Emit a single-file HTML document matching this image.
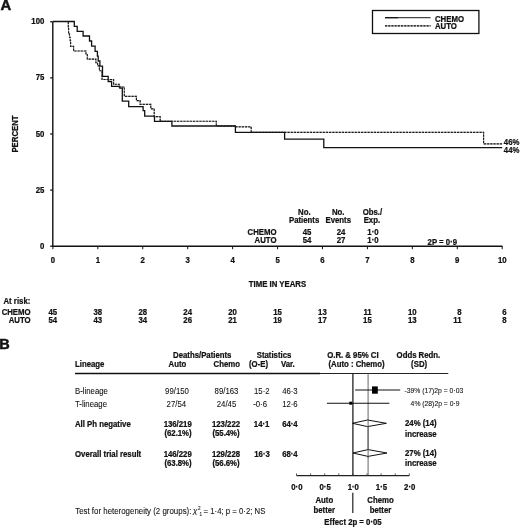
<!DOCTYPE html>
<html><head><meta charset="utf-8"><style>
html,body{margin:0;padding:0;background:#fff;width:520px;height:528px;overflow:hidden}
svg{display:block;will-change:transform}
text{font-family:"Liberation Sans",sans-serif;fill:#111;stroke:#111;stroke-width:0.08px}
text[font-weight=bold]{stroke-width:0.22px}
</style></head><body>
<svg width="520" height="528" viewBox="0 0 520 528">
<text x="0.6" y="10.3" font-weight="bold" font-size="14.8" style="stroke-width:0.5px">A</text>
<path d="M52.8 21.76 V246.20 H502.3" fill="none" stroke="#111" stroke-width="1.4"/>
<path d="M50.2 21.76 H52.7" stroke="#111" stroke-width="1.3"/>
<text transform="translate(44.30 20.76) scale(1 1.06)" y="2.68" text-anchor="end" font-weight="bold" font-size="7.8" >100</text>
<path d="M50.2 77.87 H52.7" stroke="#111" stroke-width="1.3"/>
<text transform="translate(44.30 77.57) scale(1 1.06)" y="2.68" text-anchor="end" font-weight="bold" font-size="7.8" >75</text>
<path d="M50.2 133.98 H52.7" stroke="#111" stroke-width="1.3"/>
<text transform="translate(44.30 133.68) scale(1 1.06)" y="2.68" text-anchor="end" font-weight="bold" font-size="7.8" >50</text>
<path d="M50.2 190.09 H52.7" stroke="#111" stroke-width="1.3"/>
<text transform="translate(44.30 189.79) scale(1 1.06)" y="2.68" text-anchor="end" font-weight="bold" font-size="7.8" >25</text>
<path d="M50.2 246.20 H52.7" stroke="#111" stroke-width="1.3"/>
<text transform="translate(44.30 245.90) scale(1 1.06)" y="2.68" text-anchor="end" font-weight="bold" font-size="7.8" >0</text>
<path d="M52.90 246 V249.2" stroke="#111" stroke-width="1"/>
<text transform="translate(52.90 259.80) scale(1 1.06)" y="2.68" text-anchor="middle" font-weight="bold" font-size="7.8" >0</text>
<path d="M97.83 246 V249.2" stroke="#111" stroke-width="1"/>
<text transform="translate(97.83 259.80) scale(1 1.06)" y="2.68" text-anchor="middle" font-weight="bold" font-size="7.8" >1</text>
<path d="M142.76 246 V249.2" stroke="#111" stroke-width="1"/>
<text transform="translate(142.76 259.80) scale(1 1.06)" y="2.68" text-anchor="middle" font-weight="bold" font-size="7.8" >2</text>
<path d="M187.69 246 V249.2" stroke="#111" stroke-width="1"/>
<text transform="translate(187.69 259.80) scale(1 1.06)" y="2.68" text-anchor="middle" font-weight="bold" font-size="7.8" >3</text>
<path d="M232.62 246 V249.2" stroke="#111" stroke-width="1"/>
<text transform="translate(232.62 259.80) scale(1 1.06)" y="2.68" text-anchor="middle" font-weight="bold" font-size="7.8" >4</text>
<path d="M277.55 246 V249.2" stroke="#111" stroke-width="1"/>
<text transform="translate(277.55 259.80) scale(1 1.06)" y="2.68" text-anchor="middle" font-weight="bold" font-size="7.8" >5</text>
<path d="M322.48 246 V249.2" stroke="#111" stroke-width="1"/>
<text transform="translate(322.48 259.80) scale(1 1.06)" y="2.68" text-anchor="middle" font-weight="bold" font-size="7.8" >6</text>
<path d="M367.41 246 V249.2" stroke="#111" stroke-width="1"/>
<text transform="translate(367.41 259.80) scale(1 1.06)" y="2.68" text-anchor="middle" font-weight="bold" font-size="7.8" >7</text>
<path d="M412.34 246 V249.2" stroke="#111" stroke-width="1"/>
<text transform="translate(412.34 259.80) scale(1 1.06)" y="2.68" text-anchor="middle" font-weight="bold" font-size="7.8" >8</text>
<path d="M457.27 246 V249.2" stroke="#111" stroke-width="1"/>
<text transform="translate(457.27 259.80) scale(1 1.06)" y="2.68" text-anchor="middle" font-weight="bold" font-size="7.8" >9</text>
<path d="M502.20 246 V249.2" stroke="#111" stroke-width="1"/>
<text transform="translate(502.20 259.80) scale(1 1.06)" y="2.68" text-anchor="middle" font-weight="bold" font-size="7.8" >10</text>
<text transform="translate(277.50 283.80) scale(1 1.06)" y="2.68" text-anchor="middle" font-weight="bold" font-size="7.8" >TIME IN YEARS</text>
<text transform="translate(15.4 134) rotate(-90) scale(1 1.06)" y="2.68" text-anchor="middle" font-weight="bold" font-size="7.8">PERCENT</text>
<rect x="372.5" y="10.5" width="106.4" height="23" fill="none" stroke="#111" stroke-width="1.3"/>
<path d="M385 17.7 H430.6" stroke="#444" stroke-width="1.2"/>
<path d="M385 17.7 H398" stroke="#111" stroke-width="1.2"/>
<path d="M385 25.9 H430.6" stroke="#aaa" stroke-width="1.1"/>
<path d="M385 25.9 H430.6" stroke="#111" stroke-width="1.2" stroke-dasharray="2.1 1.1"/>
<text transform="translate(435.00 19.00) scale(1 1.06)" y="2.68" text-anchor="start" font-weight="bold" font-size="7.8" >CHEMO</text>
<text transform="translate(435.00 26.40) scale(1 1.06)" y="2.68" text-anchor="start" font-weight="bold" font-size="7.8" >AUTO</text>
<path d="M52.7 21.5 H68.3 V27 H68.6 V33.9 H69.5 V37.2 H70.2 V40.7 H70.6 V46.4 H73.6 V51 H86 V54.5 H87.3 V59.1 H95.9 V62.7 H97.6 V65.9 H99.4 V70.7 H102 V79.5 H113.6 V84.2 H119.2 V87 H124.3 V96.3 H136.4 V100.6 H140.1 V104.3 H150.8 V108.8 H154.2 V116.6 H160.2 V121.2 H216.3 V126 H235.4 V126.8 H251.2 V132.3 H483.6 V143.9 H502.2" fill="none" stroke="#aaa" stroke-width="1.1"/>
<path d="M52.7 21.5 H74.3 V26.4 H77.2 V31.4 H83.1 V36 H89.5 V41 H91.6 V46.2 H95.1 V51.4 H97.4 V56.2 H98.2 V61 H99.9 V66.2 H102.5 V76.4 H108.2 V81.5 H111.6 V86.4 H119.8 V88.2 H122.3 V101.2 H128.7 V106.7 H143.1 V110.6 H144.7 V116.1 H154.5 V121.3 H171.9 V126 H235.4 V132.3 H284.6 V139.2 H323.8 V147.6 H502.2" fill="none" stroke="#111" stroke-width="1.3"/>
<path d="M52.7 21.5 H68.3 V27 H68.6 V33.9 H69.5 V37.2 H70.2 V40.7 H70.6 V46.4 H73.6 V51 H86 V54.5 H87.3 V59.1 H95.9 V62.7 H97.6 V65.9 H99.4 V70.7 H102 V79.5 H113.6 V84.2 H119.2 V87 H124.3 V96.3 H136.4 V100.6 H140.1 V104.3 H150.8 V108.8 H154.2 V116.6 H160.2 V121.2 H216.3 V126 H235.4 V126.8 H251.2 V132.3 H483.6 V143.9 H502.2" fill="none" stroke="#1a1a1a" stroke-width="1.15" stroke-dasharray="2.1 1.1"/>
<text transform="translate(503.80 142.20) scale(1 1.06)" y="2.68" text-anchor="start" font-weight="bold" font-size="7.8" >46%</text>
<text transform="translate(503.80 150.20) scale(1 1.06)" y="2.68" text-anchor="start" font-weight="bold" font-size="7.8" >44%</text>
<text transform="translate(304.30 212.40) scale(1 1.06)" y="2.68" text-anchor="middle" font-weight="bold" font-size="7.8" >No.</text>
<text transform="translate(304.10 220.10) scale(1 1.06)" y="2.68" text-anchor="middle" font-weight="bold" font-size="7.8" >Patients</text>
<text transform="translate(338.20 212.40) scale(1 1.06)" y="2.68" text-anchor="middle" font-weight="bold" font-size="7.8" >No.</text>
<text transform="translate(338.20 220.10) scale(1 1.06)" y="2.68" text-anchor="middle" font-weight="bold" font-size="7.8" >Events</text>
<text transform="translate(372.40 212.40) scale(1 1.06)" y="2.68" text-anchor="middle" font-weight="bold" font-size="7.8" >Obs./</text>
<text transform="translate(371.90 220.10) scale(1 1.06)" y="2.68" text-anchor="middle" font-weight="bold" font-size="7.8" >Exp.</text>
<text transform="translate(276.50 232.00) scale(1 1.06)" y="2.68" text-anchor="end" font-weight="bold" font-size="7.8" >CHEMO</text>
<text transform="translate(276.50 240.50) scale(1 1.06)" y="2.68" text-anchor="end" font-weight="bold" font-size="7.8" >AUTO</text>
<text transform="translate(307.00 232.00) scale(1 1.06)" y="2.68" text-anchor="middle" font-weight="bold" font-size="7.8" >45</text>
<text transform="translate(307.00 240.50) scale(1 1.06)" y="2.68" text-anchor="middle" font-weight="bold" font-size="7.8" >54</text>
<text transform="translate(341.00 232.00) scale(1 1.06)" y="2.68" text-anchor="middle" font-weight="bold" font-size="7.8" >24</text>
<text transform="translate(341.00 240.50) scale(1 1.06)" y="2.68" text-anchor="middle" font-weight="bold" font-size="7.8" >27</text>
<text transform="translate(373.00 232.00) scale(1 1.06)" y="2.68" text-anchor="middle" font-weight="bold" font-size="7.8" >1·0</text>
<text transform="translate(373.00 240.50) scale(1 1.06)" y="2.68" text-anchor="middle" font-weight="bold" font-size="7.8" >1·0</text>
<text transform="translate(442.30 241.90) scale(1 1.06)" y="2.68" text-anchor="middle" font-weight="bold" font-size="7.8" >2P = 0·9</text>
<text transform="translate(3.50 300.80) scale(1 1.06)" y="2.68" text-anchor="start" font-weight="bold" font-size="7.8" >At risk:</text>
<text transform="translate(30.60 312.20) scale(1 1.06)" y="2.68" text-anchor="end" font-weight="bold" font-size="7.8" >CHEMO</text>
<text transform="translate(30.60 319.70) scale(1 1.06)" y="2.68" text-anchor="end" font-weight="bold" font-size="7.8" >AUTO</text>
<text transform="translate(57.20 312.20) scale(1 1.06)" y="2.68" text-anchor="end" font-weight="bold" font-size="7.8" >45</text>
<text transform="translate(57.20 319.70) scale(1 1.06)" y="2.68" text-anchor="end" font-weight="bold" font-size="7.8" >54</text>
<text transform="translate(102.13 312.20) scale(1 1.06)" y="2.68" text-anchor="end" font-weight="bold" font-size="7.8" >38</text>
<text transform="translate(102.13 319.70) scale(1 1.06)" y="2.68" text-anchor="end" font-weight="bold" font-size="7.8" >43</text>
<text transform="translate(147.06 312.20) scale(1 1.06)" y="2.68" text-anchor="end" font-weight="bold" font-size="7.8" >28</text>
<text transform="translate(147.06 319.70) scale(1 1.06)" y="2.68" text-anchor="end" font-weight="bold" font-size="7.8" >34</text>
<text transform="translate(191.99 312.20) scale(1 1.06)" y="2.68" text-anchor="end" font-weight="bold" font-size="7.8" >24</text>
<text transform="translate(191.99 319.70) scale(1 1.06)" y="2.68" text-anchor="end" font-weight="bold" font-size="7.8" >26</text>
<text transform="translate(236.92 312.20) scale(1 1.06)" y="2.68" text-anchor="end" font-weight="bold" font-size="7.8" >20</text>
<text transform="translate(236.92 319.70) scale(1 1.06)" y="2.68" text-anchor="end" font-weight="bold" font-size="7.8" >21</text>
<text transform="translate(281.85 312.20) scale(1 1.06)" y="2.68" text-anchor="end" font-weight="bold" font-size="7.8" >15</text>
<text transform="translate(281.85 319.70) scale(1 1.06)" y="2.68" text-anchor="end" font-weight="bold" font-size="7.8" >19</text>
<text transform="translate(326.78 312.20) scale(1 1.06)" y="2.68" text-anchor="end" font-weight="bold" font-size="7.8" >13</text>
<text transform="translate(326.78 319.70) scale(1 1.06)" y="2.68" text-anchor="end" font-weight="bold" font-size="7.8" >17</text>
<text transform="translate(371.71 312.20) scale(1 1.06)" y="2.68" text-anchor="end" font-weight="bold" font-size="7.8" >11</text>
<text transform="translate(371.71 319.70) scale(1 1.06)" y="2.68" text-anchor="end" font-weight="bold" font-size="7.8" >15</text>
<text transform="translate(416.64 312.20) scale(1 1.06)" y="2.68" text-anchor="end" font-weight="bold" font-size="7.8" >10</text>
<text transform="translate(416.64 319.70) scale(1 1.06)" y="2.68" text-anchor="end" font-weight="bold" font-size="7.8" >13</text>
<text transform="translate(461.57 312.20) scale(1 1.06)" y="2.68" text-anchor="end" font-weight="bold" font-size="7.8" >8</text>
<text transform="translate(461.57 319.70) scale(1 1.06)" y="2.68" text-anchor="end" font-weight="bold" font-size="7.8" >11</text>
<text transform="translate(506.50 312.20) scale(1 1.06)" y="2.68" text-anchor="end" font-weight="bold" font-size="7.8" >6</text>
<text transform="translate(506.50 319.70) scale(1 1.06)" y="2.68" text-anchor="end" font-weight="bold" font-size="7.8" >8</text>
<text x="-0.8" y="348.9" font-weight="bold" font-size="14.5" style="stroke-width:0.5px">B</text>
<text transform="translate(75.00 364.30) scale(1 1.06)" y="2.68" text-anchor="start" font-weight="bold" font-size="7.8" >Lineage</text>
<text transform="translate(202.20 355.10) scale(1 1.06)" y="2.68" text-anchor="middle" font-weight="bold" font-size="7.8" >Deaths/Patients</text>
<text transform="translate(177.40 364.20) scale(1 1.06)" y="2.68" text-anchor="middle" font-weight="bold" font-size="7.8" >Auto</text>
<text transform="translate(226.80 364.20) scale(1 1.06)" y="2.68" text-anchor="middle" font-weight="bold" font-size="7.8" >Chemo</text>
<text transform="translate(274.00 355.40) scale(1 1.06)" y="2.68" text-anchor="middle" font-weight="bold" font-size="7.8" >Statistics</text>
<text transform="translate(258.50 364.20) scale(1 1.06)" y="2.68" text-anchor="middle" font-weight="bold" font-size="7.8" >(O-E)</text>
<text transform="translate(287.80 364.20) scale(1 1.06)" y="2.68" text-anchor="middle" font-weight="bold" font-size="7.8" >Var.</text>
<text transform="translate(352.90 355.40) scale(1 1.06)" y="2.68" text-anchor="middle" font-weight="bold" font-size="7.8" >O.R. &amp; 95% CI</text>
<text transform="translate(356.50 363.80) scale(1 1.06)" y="2.68" text-anchor="middle" font-weight="bold" font-size="7.8" >(Auto : Chemo)</text>
<text transform="translate(418.40 355.40) scale(1 1.06)" y="2.68" text-anchor="middle" font-weight="bold" font-size="7.8" >Odds Redn.</text>
<text transform="translate(419.10 363.80) scale(1 1.06)" y="2.68" text-anchor="middle" font-weight="bold" font-size="7.8" >(SD)</text>
<path d="M75 373.5 H320" stroke="#111" stroke-width="1.5"/>
<path d="M320 373.5 H448.3" stroke="#222" stroke-width="1"/>
<text transform="translate(75.00 390.80) scale(1 1.06)" y="2.68" text-anchor="start" font-weight="normal" font-size="7.8" >B-lineage</text>
<text transform="translate(75.00 403.80) scale(1 1.06)" y="2.68" text-anchor="start" font-weight="normal" font-size="7.8" >T-lineage</text>
<text transform="translate(75.00 423.80) scale(1 1.06)" y="2.68" text-anchor="start" font-weight="bold" font-size="7.8" >All Ph negative</text>
<text transform="translate(75.00 453.70) scale(1 1.06)" y="2.68" text-anchor="start" font-weight="bold" font-size="7.8" >Overall trial result</text>
<text transform="translate(177.00 390.80) scale(1 1.06)" y="2.68" text-anchor="middle" font-weight="normal" font-size="7.8" >99/150</text>
<text transform="translate(226.50 390.80) scale(1 1.06)" y="2.68" text-anchor="middle" font-weight="normal" font-size="7.8" >89/163</text>
<text transform="translate(176.30 403.80) scale(1 1.06)" y="2.68" text-anchor="middle" font-weight="normal" font-size="7.8" >27/54</text>
<text transform="translate(226.50 403.80) scale(1 1.06)" y="2.68" text-anchor="middle" font-weight="normal" font-size="7.8" >24/45</text>
<text transform="translate(177.70 423.80) scale(1 1.06)" y="2.68" text-anchor="middle" font-weight="bold" font-size="7.8" >136/219</text>
<text transform="translate(226.00 423.80) scale(1 1.06)" y="2.68" text-anchor="middle" font-weight="bold" font-size="7.8" >123/222</text>
<text transform="translate(178.00 433.50) scale(1 1.06)" y="2.68" text-anchor="middle" font-weight="bold" font-size="7.8" >(62.1%)</text>
<text transform="translate(226.00 433.50) scale(1 1.06)" y="2.68" text-anchor="middle" font-weight="bold" font-size="7.8" >(55.4%)</text>
<text transform="translate(177.70 453.70) scale(1 1.06)" y="2.68" text-anchor="middle" font-weight="bold" font-size="7.8" >146/229</text>
<text transform="translate(226.00 453.70) scale(1 1.06)" y="2.68" text-anchor="middle" font-weight="bold" font-size="7.8" >129/228</text>
<text transform="translate(178.00 463.50) scale(1 1.06)" y="2.68" text-anchor="middle" font-weight="bold" font-size="7.8" >(63.8%)</text>
<text transform="translate(226.00 463.50) scale(1 1.06)" y="2.68" text-anchor="middle" font-weight="bold" font-size="7.8" >(56.6%)</text>
<text transform="translate(269.60 390.80) scale(1 1.06)" y="2.68" text-anchor="end" font-weight="normal" font-size="7.8" >15·2</text>
<text transform="translate(267.00 403.80) scale(1 1.06)" y="2.68" text-anchor="end" font-weight="normal" font-size="7.8" >-0·6</text>
<text transform="translate(269.40 423.80) scale(1 1.06)" y="2.68" text-anchor="end" font-weight="bold" font-size="7.8" >14·1</text>
<text transform="translate(269.80 453.70) scale(1 1.06)" y="2.68" text-anchor="end" font-weight="bold" font-size="7.8" >16·3</text>
<text transform="translate(297.70 390.80) scale(1 1.06)" y="2.68" text-anchor="end" font-weight="normal" font-size="7.8" >46·3</text>
<text transform="translate(297.70 403.80) scale(1 1.06)" y="2.68" text-anchor="end" font-weight="normal" font-size="7.8" >12·6</text>
<text transform="translate(297.70 423.80) scale(1 1.06)" y="2.68" text-anchor="end" font-weight="bold" font-size="7.8" >64·4</text>
<text transform="translate(297.70 453.70) scale(1 1.06)" y="2.68" text-anchor="end" font-weight="bold" font-size="7.8" >68·4</text>
<path d="M352.90 373 V475.6" stroke="#222" stroke-width="1.3"/>
<path d="M368.1 373 V475.6" stroke="#555" stroke-width="0.9"/>
<path d="M296.50 475.6 H409.30" stroke="#222" stroke-width="1.1"/>
<path d="M296.50 475.6 V473.4" stroke="#333" stroke-width="0.8"/>
<path d="M310.60 475.6 V473.4" stroke="#333" stroke-width="0.8"/>
<path d="M324.70 475.6 V473.4" stroke="#333" stroke-width="0.8"/>
<path d="M338.80 475.6 V473.4" stroke="#333" stroke-width="0.8"/>
<path d="M352.90 475.6 V473.4" stroke="#333" stroke-width="0.8"/>
<path d="M367.00 475.6 V473.4" stroke="#333" stroke-width="0.8"/>
<path d="M381.10 475.6 V473.4" stroke="#333" stroke-width="0.8"/>
<path d="M395.20 475.6 V473.4" stroke="#333" stroke-width="0.8"/>
<path d="M409.30 475.6 V473.4" stroke="#333" stroke-width="0.8"/>
<path d="M355.1 390.0 H400.2" stroke="#111" stroke-width="1.1"/>
<rect x="372" y="386.4" width="5.8" height="7.3" fill="#000"/>
<path d="M327 403.2 H389.4" stroke="#111" stroke-width="1.1"/>
<rect x="349.3" y="401.7" width="3" height="3" fill="#000"/>
<path d="M352.4 423.3 L367.5 420 L386.4 423.3 L367.5 426.6 Z" fill="#fff" stroke="#111" stroke-width="1" stroke-linejoin="round"/>
<path d="M352.9 453 L368 449.6 L387 453 L368 456.4 Z" fill="#fff" stroke="#111" stroke-width="1" stroke-linejoin="round"/>
<path d="M368.1 419 V458" stroke="#555" stroke-width="0.9"/>
<text transform="translate(404.50 390.80) scale(1 1.06)" y="2.34" text-anchor="start" font-weight="normal" font-size="6.8" >-39% (17)2p = 0·03</text>
<text transform="translate(410.60 403.80) scale(1 1.06)" y="2.34" text-anchor="start" font-weight="normal" font-size="6.8" >4% (28)2p = 0·9</text>
<text transform="translate(405.00 423.10) scale(1 1.06)" y="2.68" text-anchor="start" font-weight="bold" font-size="7.8" >24% (14)</text>
<text transform="translate(405.00 433.80) scale(1 1.06)" y="2.68" text-anchor="start" font-weight="bold" font-size="7.8" >increase</text>
<text transform="translate(405.00 453.20) scale(1 1.06)" y="2.68" text-anchor="start" font-weight="bold" font-size="7.8" >27% (14)</text>
<text transform="translate(405.00 463.10) scale(1 1.06)" y="2.68" text-anchor="start" font-weight="bold" font-size="7.8" >increase</text>
<text transform="translate(296.90 486.90) scale(1 1.06)" y="2.68" text-anchor="middle" font-weight="bold" font-size="7.8" >0·0</text>
<text transform="translate(325.10 486.90) scale(1 1.06)" y="2.68" text-anchor="middle" font-weight="bold" font-size="7.8" >0·5</text>
<text transform="translate(353.30 486.90) scale(1 1.06)" y="2.68" text-anchor="middle" font-weight="bold" font-size="7.8" >1·0</text>
<text transform="translate(381.50 486.90) scale(1 1.06)" y="2.68" text-anchor="middle" font-weight="bold" font-size="7.8" >1·5</text>
<text transform="translate(409.70 486.90) scale(1 1.06)" y="2.68" text-anchor="middle" font-weight="bold" font-size="7.8" >2·0</text>
<text transform="translate(324.30 500.00) scale(1 1.06)" y="2.68" text-anchor="middle" font-weight="bold" font-size="7.8" >Auto</text>
<text transform="translate(324.30 510.30) scale(1 1.06)" y="2.68" text-anchor="middle" font-weight="bold" font-size="7.8" >better</text>
<text transform="translate(380.50 500.00) scale(1 1.06)" y="2.68" text-anchor="middle" font-weight="bold" font-size="7.8" >Chemo</text>
<text transform="translate(380.50 510.30) scale(1 1.06)" y="2.68" text-anchor="middle" font-weight="bold" font-size="7.8" >better</text>
<path d="M352.8 492.8 V513" stroke="#222" stroke-width="1.2"/>
<text transform="translate(353.00 521.90) scale(1 1.06)" y="2.68" text-anchor="middle" font-weight="bold" font-size="7.8" >Effect 2p = 0·05</text>
<text transform="translate(75.2 511) scale(1 1.06)" y="2.68" font-size="7.8" textLength="116.2" lengthAdjust="spacingAndGlyphs">Test for heterogeneity (2 groups):</text>
<text x="193.1" y="512.5" font-size="8" font-style="italic">χ</text>
<text x="198.1" y="509.6" font-size="4.6">2</text>
<text x="199.6" y="515.9" font-size="4.6">1</text>
<text transform="translate(203.6 511) scale(1 1.06)" y="2.68" font-size="7.8" textLength="61.8" lengthAdjust="spacingAndGlyphs">= 1·4; p = 0·2; NS</text>
</svg>
</body></html>
